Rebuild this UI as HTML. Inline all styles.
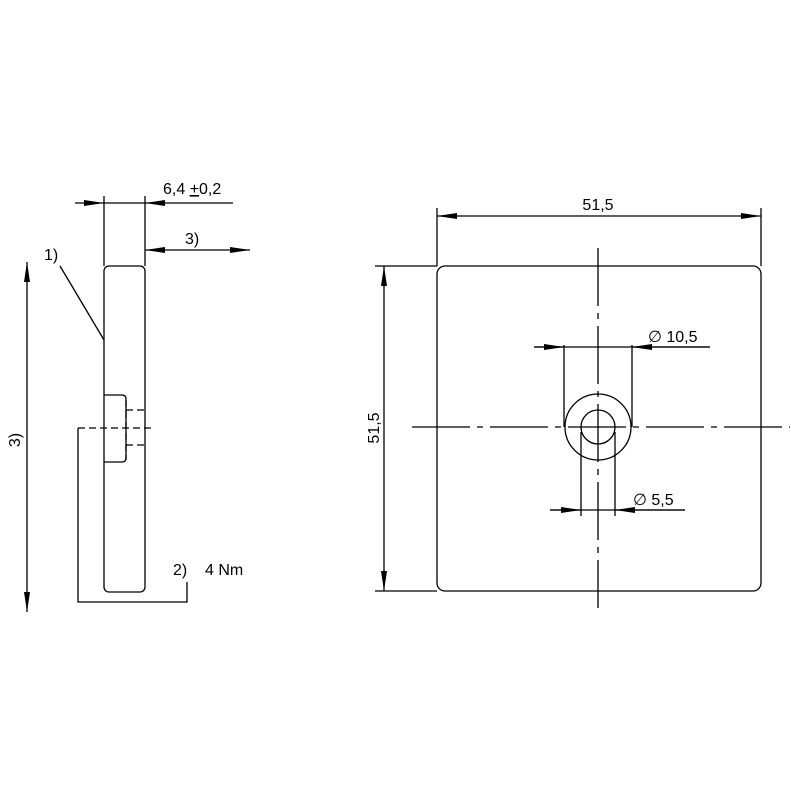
<!DOCTYPE html>
<html><head><style>body{margin:0;background:#fff}svg{display:block}text{font-family:"Liberation Sans",sans-serif;font-size:16px;fill:#000}</style></head>
<body>
<svg width="800" height="800" viewBox="0 0 800 800">
<defs>
<marker id="a" viewBox="0 0 20 8" refX="20" refY="4" markerWidth="20" markerHeight="8" markerUnits="userSpaceOnUse" orient="auto-start-reverse"><path d="M0,1 L20,4 L0,7z" fill="#000"/></marker>
</defs>
<g stroke="#000" stroke-width="1.3" fill="none">
<!-- left view -->
<rect x="104" y="266" width="41" height="326" rx="5"/>
<line x1="104" y1="196" x2="104" y2="266"/>
<line x1="145" y1="196" x2="145" y2="266"/>
<line x1="75" y1="203" x2="104" y2="203" marker-end="url(#a)"/>
<line x1="233" y1="203" x2="145" y2="203" marker-end="url(#a)"/>
<line x1="104" y1="203" x2="145" y2="203"/>
<line x1="145" y1="250" x2="250" y2="250" marker-start="url(#a)" marker-end="url(#a)"/>
<line x1="27" y1="262" x2="27" y2="612" marker-start="url(#a)" marker-end="url(#a)"/>
<line x1="60" y1="266" x2="104" y2="340"/>
<path d="M104,395 H122 Q126,395 126,399 V458 Q126,462 122,462 H104"/>
<g stroke-dasharray="7,4">
<line x1="126" y1="410" x2="145" y2="410"/>
<line x1="126" y1="445" x2="145" y2="445"/>
<line x1="126" y1="400" x2="126" y2="460"/>
<line x1="78" y1="428" x2="153" y2="428"/>
</g>
<polyline points="78,428 78,602 187,602 187,582"/>
<!-- right view -->
<rect x="437" y="266" width="324" height="325" rx="8"/>
<line x1="437" y1="208" x2="437" y2="266"/>
<line x1="761" y1="208" x2="761" y2="266"/>
<line x1="437" y1="216" x2="761" y2="216" marker-start="url(#a)" marker-end="url(#a)"/>
<line x1="375" y1="266" x2="437" y2="266"/>
<line x1="375" y1="591" x2="437" y2="591"/>
<line x1="384" y1="266" x2="384" y2="591" marker-start="url(#a)" marker-end="url(#a)"/>
<circle cx="598" cy="427" r="33"/>
<circle cx="598" cy="427" r="17"/>
<g stroke-dasharray="58,7,6,7">
<line x1="412" y1="427" x2="790" y2="427"/>
<line x1="598" y1="248" x2="598" y2="608"/>
</g>
<line x1="564" y1="345" x2="564" y2="427"/>
<line x1="632" y1="345" x2="632" y2="427"/>
<line x1="534" y1="347" x2="710" y2="347"/>
<line x1="534" y1="347" x2="564" y2="347" marker-end="url(#a)"/>
<line x1="710" y1="347" x2="632" y2="347" marker-end="url(#a)"/>
<line x1="581" y1="432" x2="581" y2="516"/>
<line x1="615" y1="432" x2="615" y2="516"/>
<line x1="550" y1="510" x2="685" y2="510"/>
<line x1="550" y1="510" x2="581" y2="510" marker-end="url(#a)"/>
<line x1="685" y1="510" x2="615" y2="510" marker-end="url(#a)"/>
</g>
<text x="163" y="194">6,4 <tspan text-decoration="underline">+</tspan>0,2</text>
<text x="185" y="244">3)</text>
<text x="44" y="260">1)</text>
<text x="20" y="440" transform="rotate(-90 20 440)" text-anchor="middle">3)</text>
<text x="173" y="575">2)</text>
<text x="205" y="575">4 Nm</text>
<text x="598" y="210" text-anchor="middle">51,5</text>
<text x="379" y="428" transform="rotate(-90 379 428)" text-anchor="middle">51,5</text>
<text x="648" y="342">∅ 10,5</text>
<text x="633" y="505">∅ 5,5</text>
</svg>
</body></html>
